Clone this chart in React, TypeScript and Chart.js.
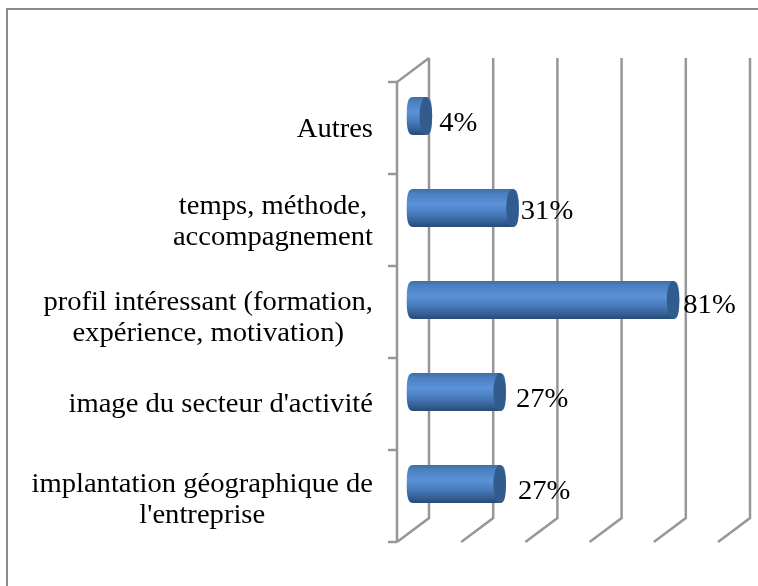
import React, { useEffect, useRef } from "react";
import { Chart, registerables } from "chart.js";

Chart.register(...registerables);

const categories: string[][] = [
  ["Autres"],
  ["temps, méthode,", "accompagnement"],
  ["profil intéressant (formation,", "expérience, motivation)"],
  ["image du secteur d'activité"],
  ["implantation géographique de", "l'entreprise"],
];
const values = [0.04, 0.31, 0.81, 0.27, 0.27];
const valueLabels = ["4%", "31%", "81%", "27%", "27%"];
const xTicks = [0, 0.2, 0.4, 0.6, 0.8, 1];

const labelNudgeX = [7, 2, 4, 10, 12];
const labelNudgeY = [8, 4, 6, 8, 8];
const catNudgeY = [2, 2, 6, 1, 4];

const FONT = '"Liberation Serif", serif';
const TEXT_SIZE = 27.5;
const STRETCH = 1.04;
const GRID = "#979797";
const DX = 32;
const DY = 24;

function wideText(ctx: any, text: string, x: number, y: number) {
  ctx.save();
  ctx.translate(x, y);
  ctx.scale(STRETCH, 1);
  ctx.fillText(text, 0, 0);
  ctx.restore();
}

const chart3d = {
  id: "chart3d",
  beforeDatasetsDraw(chart: any) {
    const { ctx, chartArea: a, scales } = chart;
    const x = scales.x;
    const y = scales.y;
    ctx.save();
    ctx.strokeStyle = GRID;
    ctx.lineWidth = 2.5;
    ctx.lineJoin = "miter";
    ctx.beginPath();
    xTicks.forEach((t) => {
      const px = x.getPixelForValue(t);
      ctx.moveTo(px + DX, a.top - DY);
      ctx.lineTo(px + DX, a.bottom - DY);
      ctx.lineTo(px, a.bottom);
    });
    ctx.moveTo(a.left + DX, a.top - DY);
    ctx.lineTo(a.left, a.top);
    ctx.lineTo(a.left, a.bottom);
    const band = (a.bottom - a.top) / categories.length;
    for (let i = 0; i <= categories.length; i++) {
      const py = a.top + band * i;
      ctx.moveTo(a.left - 9, py);
      ctx.lineTo(a.left, py);
    }
    ctx.stroke();

    ctx.fillStyle = "#000";
    ctx.font = `${TEXT_SIZE}px ${FONT}`;
    ctx.textAlign = "center";
    ctx.textBaseline = "middle";
    categories.forEach((lines, i) => {
      const widest = Math.max(...lines.map((l) => ctx.measureText(l).width)) * STRETCH;
      const cx = a.left - 24 - widest / 2;
      const cy = y.getPixelForValue(i) + catNudgeY[i];
      lines.forEach((l, j) => {
        wideText(ctx, l, cx, cy + (j - (lines.length - 1) / 2) * 31);
      });
    });
    ctx.restore();
  },
  beforeDatasetDraw() {
    return false;
  },
  afterDatasetsDraw(chart: any) {
    const { ctx } = chart;
    const meta = chart.getDatasetMeta(0);
    const rx = 6.3;
    const k = 0.75;
    ctx.save();
    meta.data.forEach((el: any, i: number) => {
      const x0 = el.base + DX / 2;
      const x1 = el.x + DX / 2;
      const cy = el.y - DY / 2;
      const ry = el.height / 2;
      const g = ctx.createLinearGradient(0, cy - ry, 0, cy + ry);
      g.addColorStop(0, "#3f6ea8");
      g.addColorStop(0.12, "#4a7fbf");
      g.addColorStop(0.4, "#5b93d9");
      g.addColorStop(0.7, "#4476b4");
      g.addColorStop(0.92, "#2f5688");
      g.addColorStop(1, "#284a76");
      ctx.fillStyle = g;
      ctx.beginPath();
      ctx.moveTo(x0, cy + ry);
      ctx.bezierCurveTo(x0 - rx * k, cy + ry, x0 - rx, cy + ry * k, x0 - rx, cy);
      ctx.bezierCurveTo(x0 - rx, cy - ry * k, x0 - rx * k, cy - ry, x0, cy - ry);
      ctx.lineTo(x1, cy - ry);
      ctx.bezierCurveTo(x1 + rx * k, cy - ry, x1 + rx, cy - ry * k, x1 + rx, cy);
      ctx.bezierCurveTo(x1 + rx, cy + ry * k, x1 + rx * k, cy + ry, x1, cy + ry);
      ctx.closePath();
      ctx.fill();
      ctx.fillStyle = "#325b8e";
      ctx.beginPath();
      ctx.ellipse(x1, cy, rx, ry, 0, 0, Math.PI * 2);
      ctx.fill();

      ctx.fillStyle = "#000";
      ctx.font = `${TEXT_SIZE}px ${FONT}`;
      ctx.textAlign = "left";
      ctx.textBaseline = "middle";
      wideText(ctx, valueLabels[i], x1 + rx + labelNudgeX[i], cy + labelNudgeY[i]);
    });
    ctx.restore();
  },
};

export default function App() {
  const ref = useRef<HTMLCanvasElement>(null);
  useEffect(() => {
    document.body.style.margin = "0";
    document.body.style.overflow = "hidden";
    const chart = new Chart(ref.current!, {
      type: "bar",
      data: {
        labels: categories,
        datasets: [
          {
            data: values,
            backgroundColor: "#4a7ebb",
            categoryPercentage: 1,
            barPercentage: 0.413,
          },
        ],
      },
      options: {
        indexAxis: "y",
        animation: false,
        responsive: false,
        layout: { padding: { left: 397, right: 40, top: 82, bottom: 44 } },
        plugins: { legend: { display: false }, tooltip: { enabled: false } },
        scales: {
          x: { display: false, min: 0, max: 1 },
          y: { display: false, reverse: false },
        },
      },
      plugins: [chart3d],
    } as any);
    return () => chart.destroy();
  }, []);
  return (
    <div style={{ position: "relative", width: 758, height: 586, overflow: "hidden", background: "#fff" }}>
      <canvas ref={ref} width={758} height={586} style={{ position: "absolute", left: 0, top: 0 }} />
      <div
        style={{
          position: "absolute",
          left: 6,
          top: 8,
          width: 780,
          height: 600,
          borderLeft: "2px solid #8c8c8c",
          borderTop: "2px solid #8c8c8c",
          pointerEvents: "none",
        }}
      />
    </div>
  );
}
